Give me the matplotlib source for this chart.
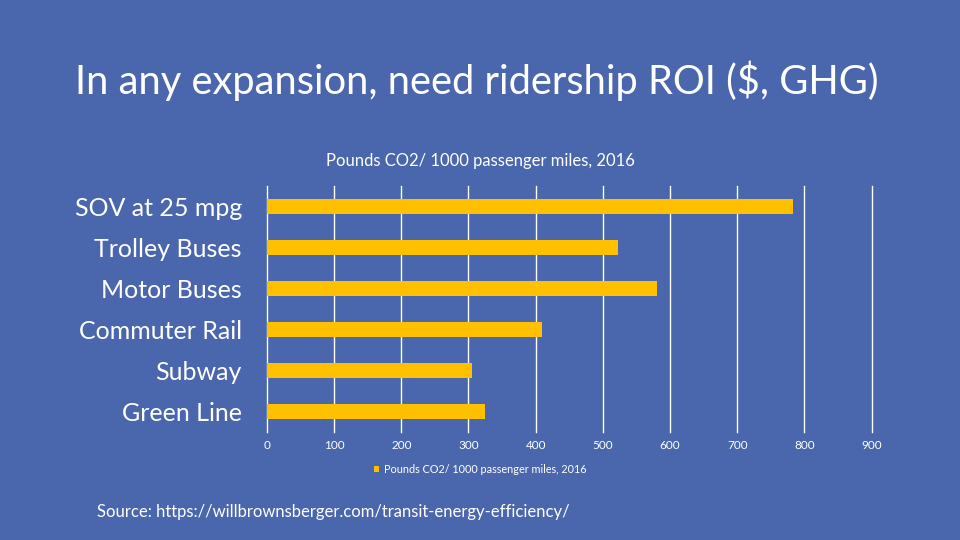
import matplotlib.pyplot as plt

# Data
categories = ['SOV at 25 mpg', 'Trolley Buses', 'Motor Buses',
              'Commuter Rail', 'Subway', 'Green Line']
co2_per_1000_pm = [783, 523, 580, 409, 305, 324]
series_name = 'Pounds CO2/ 1000 passenger miles, 2016'
x_ticks = [0, 100, 200, 300, 400, 500, 600, 700, 800, 900]

bg = '#4A66AC'
bar_color = '#FFC000'
plt.rcParams['font.family'] = ['Lato', 'DejaVu Sans']

fig = plt.figure(figsize=(9.6, 5.4), dpi=100, facecolor=bg)
ax = fig.add_axes([0.278, 0.2, 0.630, 0.4556], facecolor=bg)

ypos = range(len(categories))
ax.barh(ypos, co2_per_1000_pm, height=0.37, color=bar_color, zorder=3,
        label=series_name)
ax.set_ylim(len(categories) - 0.5, -0.5)
ax.set_xlim(0, 900)
ax.set_xticks(x_ticks)
ax.set_yticks(list(ypos))
ax.set_yticklabels(categories, fontsize=18, color='white')
ax.tick_params(axis='y', length=0, pad=18)
ax.tick_params(axis='x', length=0, pad=6, labelsize=8.5, labelcolor='white')
ax.grid(axis='x', color='white', linewidth=1, zorder=0)
for g in ax.xaxis.get_gridlines():
    g.set_clip_on(False)
for s in ax.spines.values():
    s.set_visible(False)

# Chart title and legend
fig.text(0.5, 0.701, series_name, ha='center', va='center',
         fontsize=12, color='white')
fig.legend(loc='center', bbox_to_anchor=(0.5, 0.131), frameon=False,
           fontsize=7.8, labelcolor='white', handlelength=0.5,
           handleheight=0.5, handletextpad=0.4)

# Slide title and source
fig.text(0.078, 0.85, 'In any expansion, need ridership ROI ($, GHG)',
         ha='left', va='center', fontsize=28.7, color='white')
fig.text(0.101, 0.052,
         'Source: https://willbrownsberger.com/transit-energy-efficiency/',
         ha='left', va='center', fontsize=12, color='white')

fig.savefig('out.png', dpi=100, facecolor=bg)
